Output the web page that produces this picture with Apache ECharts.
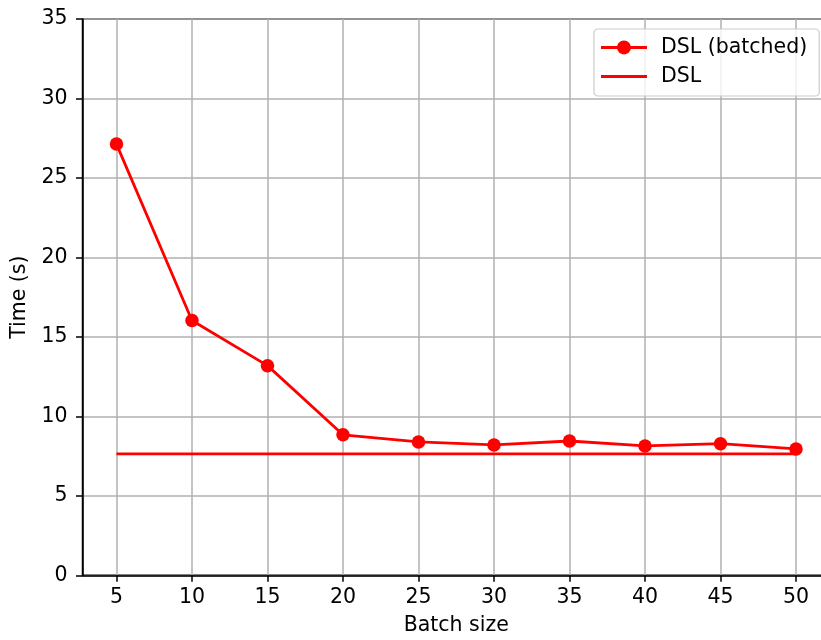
<!DOCTYPE html>
<html>
<head>
<meta charset="utf-8">
<script src="https://cdn.jsdelivr.net/npm/echarts@6/dist/echarts.min.js"></script>
<style>
html,body{margin:0;padding:0;background:#fff;}
#c{width:821px;height:640px;}
</style>
</head>
<body>
<div id="c"></div>
<script>
const batchSizes = [5, 10, 15, 20, 25, 30, 35, 40, 45, 50];
const dslBatched = [27.13, 16.03, 13.19, 8.84, 8.39, 8.2, 8.45, 8.14, 8.28, 7.95];
const dslConst = [7.64, 7.64, 7.64, 7.64, 7.64, 7.64, 7.64, 7.64, 7.64, 7.64];
const xTicks = [5, 10, 15, 20, 25, 30, 35, 40, 45, 50];

const FONT = 'DejaVu Sans';
const FS = 20.5;
const chart = echarts.init(document.getElementById('c'), null, {renderer: 'canvas'});
chart.setOption({
  animation: false,
  backgroundColor: '#fff',
  textStyle: {fontFamily: FONT},
  grid: {
    left: 82.5, top: 19, width: 747.5, bottom: 64.7,
    outerBoundsMode: 'none',
    show: true, borderColor: '#000', borderWidth: 1.5, containLabel: false
  },
  legend: {
    orient: 'vertical',
    left: 594, top: 29,
    padding: [6.5, 12, 7.5, 7],
    itemWidth: 46, itemHeight: 14, itemGap: 5,
    borderColor: '#cccccc', borderWidth: 1.2, borderRadius: 4,
    backgroundColor: 'rgba(255,255,255,0.8)',
    textStyle: {fontFamily: FONT, fontSize: FS, color: '#000', lineHeight: 24, padding: [0,0,0,9]},
    data: [
      {name: 'DSL (batched)', icon: 'path://M0,5.6L46,5.6L46,8.4L0,8.4Z M23,0.1C26.81,0.1 29.9,3.19 29.9,7C29.9,10.81 26.81,13.9 23,13.9C19.19,13.9 16.1,10.81 16.1,7C16.1,3.19 19.19,0.1 23,0.1Z'},
      {name: 'DSL', icon: 'path://M0,5.6L46,5.6L46,8.4L0,8.4Z'}
    ]
  },
  xAxis: {
    type: 'value', min: 2.75, max: 52.25,
    name: 'Batch size', nameLocation: 'middle', nameGap: 40,
    nameTextStyle: {fontFamily: FONT, fontSize: FS, color: '#000'},
    axisLine: {show: true, onZero: false, lineStyle: {color: '#000', width: 1.5}},
    axisTick: {show: true, length: 6.5, customValues: xTicks, lineStyle: {color: '#000', width: 1.5}},
    axisLabel: {customValues: xTicks, margin: 12, fontFamily: FONT, fontSize: FS, color: '#000'},
    splitLine: {show: true, lineStyle: {color: '#b0b0b0', width: 1.5}}
  },
  yAxis: {
    type: 'value', min: 0, max: 35, interval: 5,
    name: 'Time (s)', nameLocation: 'middle', nameGap: 51, nameRotate: 90,
    nameTextStyle: {fontFamily: FONT, fontSize: FS, color: '#000'},
    axisLine: {show: true, lineStyle: {color: '#000', width: 1.5}},
    axisTick: {show: true, length: 6.5, lineStyle: {color: '#000', width: 1.5}},
    axisLabel: {margin: 15, fontFamily: FONT, fontSize: FS, color: '#000'},
    splitLine: {show: true, lineStyle: {color: '#b0b0b0', width: 1.5}}
  },
  series: [
    {
      name: 'DSL (batched)', type: 'line',
      data: batchSizes.map((x, i) => [x, dslBatched[i]]),
      symbol: 'circle', symbolSize: 13.5, showSymbol: true,
      lineStyle: {color: '#ff0000', width: 2.8},
      itemStyle: {color: '#ff0000'},
      z: 3
    },
    {
      name: 'DSL', type: 'line',
      data: batchSizes.map((x, i) => [x, dslConst[i]]),
      symbol: 'none',
      lineStyle: {color: '#ff0000', width: 2.8},
      itemStyle: {color: '#ff0000'},
      z: 3
    }
  ]
});
</script>
</body>
</html>
